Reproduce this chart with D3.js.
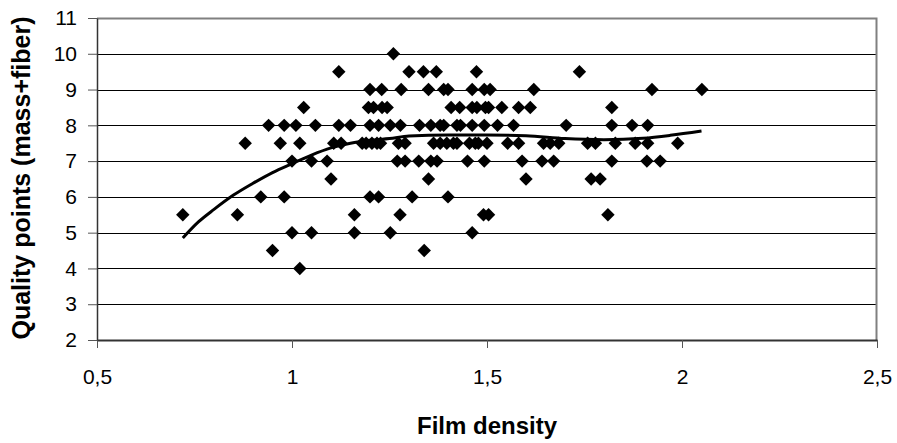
<!DOCTYPE html>
<html lang="en">

<head>
    <meta charset="UTF-8">
    <title>Film density vs quality points</title>
    <style>
        body {
            margin: 0;
            background: #fff;
        }

        #chart {
            width: 897px;
            height: 443px;
            font-family: Arial, "Liberation Sans", sans-serif;
        }

        .tick text {
            font-size: 21px;
            fill: #000;
        }

        .axis-title {
            font-size: 24px;
            font-weight: bold;
            fill: #000;
        }
    </style>
    <script src="https://cdn.jsdelivr.net/npm/d3@7"></script>
</head>

<body>
    <div id="chart"></div>
    <script>
        // tick values
        var xTicks = [0.5, 1, 1.5, 2, 2.5];
        var yTicks = [2, 3, 4, 5, 6, 7, 8, 9, 10, 11];

        // measured samples: film density (x) and quality points (y)
        var density = [
            0.72, 0.86, 0.88, 0.92, 0.94, 0.95, 0.97, 0.98, 0.98, 1.0, 1.0, 1.01, 1.02, 1.02, 1.03, 1.05, 1.05, 1.06, 1.09, 1.10,
            1.26, 1.12, 1.30, 1.20, 1.23, 1.28, 1.196, 1.209, 1.231, 1.244, 1.12, 1.15, 1.20, 1.222, 1.252, 1.278, 1.327,
            1.107, 1.126, 1.18, 1.19, 1.205, 1.218, 1.227, 1.273, 1.29, 1.27, 1.29, 1.325, 1.20, 1.222, 1.308, 1.16, 1.277, 1.16, 1.252,
            1.337, 1.37, 1.473, 1.35, 1.389, 1.40, 1.462, 1.493, 1.508, 1.408, 1.43, 1.462, 1.474, 1.496, 1.504, 1.538,
            1.356, 1.38, 1.389, 1.423, 1.432, 1.462, 1.493, 1.527, 1.363, 1.38, 1.397, 1.414, 1.423, 1.455, 1.47, 1.478, 1.50, 1.553,
            1.356, 1.372, 1.45, 1.493, 1.35, 1.40, 1.491, 1.504, 1.462, 1.339,
            1.737, 1.62, 1.581, 1.611, 1.568, 1.703, 1.581, 1.645, 1.662, 1.684, 1.758, 1.778, 1.59, 1.641, 1.671, 1.60, 1.767, 1.79,
            1.923, 2.051, 1.82, 1.82, 1.872, 1.912, 1.829, 1.88, 1.912, 1.989, 1.82, 1.91, 1.944, 1.81
        ];
        var quality = [
            5.5, 5.5, 7.5, 6, 8, 4.5, 7.5, 8, 6, 7, 5, 8, 7.5, 4, 8.5, 7, 5, 8, 7, 6.5,
            10, 9.5, 9.5, 9, 9, 9, 8.5, 8.5, 8.5, 8.5, 8, 8, 8, 8, 8, 8, 8,
            7.5, 7.5, 7.5, 7.5, 7.5, 7.5, 7.5, 7.5, 7.5, 7, 7, 7, 6, 6, 6, 5.5, 5.5, 5, 5,
            9.5, 9.5, 9.5, 9, 9, 9, 9, 9, 9, 8.5, 8.5, 8.5, 8.5, 8.5, 8.5, 8.5,
            8, 8, 8, 8, 8, 8, 8, 8, 7.5, 7.5, 7.5, 7.5, 7.5, 7.5, 7.5, 7.5, 7.5, 7.5,
            7, 7, 7, 7, 6.5, 6, 5.5, 5.5, 5, 4.5,
            9.5, 9, 8.5, 8.5, 8, 8, 7.5, 7.5, 7.5, 7.5, 7.5, 7.5, 7, 7, 7, 6.5, 6.5, 6.5,
            9, 9, 8.5, 8, 8, 8, 7.5, 7.5, 7.5, 7.5, 7, 7, 7, 5.5
        ];

        // trend line
        var trendX = [0.72, 0.76, 0.80, 0.85, 0.90, 0.95, 1.00, 1.05, 1.10, 1.15, 1.20, 1.25, 1.30, 1.40, 1.50, 1.60, 1.70, 1.80, 1.90, 1.97, 2.05];
        var trendY = [4.85, 5.3, 5.65, 6.05, 6.38, 6.68, 6.93, 7.17, 7.37, 7.50, 7.58, 7.63, 7.70, 7.73, 7.73, 7.71, 7.63, 7.60, 7.64, 7.72, 7.84];

        var margin = { top: 18, right: 20, bottom: 103, left: 97 },
            width = 897 - margin.left - margin.right,
            height = 443 - margin.top - margin.bottom;

        var svg = d3.select("#chart").append("svg")
            .attr("width", 897)
            .attr("height", 443);
        var g = svg.append("g")
            .attr("transform", "translate(" + margin.left + "," + margin.top + ")");

        var x = d3.scaleLinear().domain([0.5, 2.5]).range([0, width]);
        var y = d3.scaleLinear().domain([2, 11]).range([height, 0]);

        // gridlines
        g.append("g").selectAll("line")
            .data(yTicks.slice(1))
            .enter().append("line")
            .attr("x1", 0)
            .attr("x2", width)
            .attr("y1", function (d) { return Math.round(y(d)) + 0.5; })
            .attr("y2", function (d) { return Math.round(y(d)) + 0.5; })
            .style("stroke", "#000")
            .style("stroke-width", 1);

        // plot border (top / right)
        g.append("path")
            .attr("d", "M0," + 0.5 + "H" + (width - 0.5) + "V" + height)
            .style("fill", "none")
            .style("stroke", "#808080")
            .style("stroke-width", 2);

        var xAxis = g.append("g")
            .attr("transform", "translate(0," + height + ")")
            .call(d3.axisBottom(x).tickValues(xTicks).tickSize(8).tickSizeOuter(0)
                .tickFormat(function (d) { return String(d).replace(".", ","); }));
        xAxis.select(".domain").style("stroke", "#333").style("stroke-width", 2);
        xAxis.selectAll(".tick line").style("stroke", "#555");
        xAxis.selectAll(".tick text").attr("y", 29);

        var yAxis = g.append("g")
            .call(d3.axisLeft(y).tickValues(yTicks).tickSize(9).tickSizeOuter(0));
        yAxis.select(".domain").style("stroke", "#333").style("stroke-width", 1.5);
        yAxis.selectAll(".tick line").style("stroke", "#555");
        yAxis.selectAll(".tick text").attr("x", -20);
        g.selectAll(".tick text").style("font-family", "Arial, 'Liberation Sans', sans-serif");

        // points
        var pts = density.map(function (d, i) { return [d, quality[i]]; });
        var diamond = d3.symbol().type(d3.symbolSquare).size(90);
        g.append("g").selectAll("path")
            .data(pts)
            .enter().append("path")
            .attr("d", diamond)
            .attr("transform", function (d) { return "translate(" + x(d[0]) + "," + y(d[1]) + ") rotate(45)"; })
            .style("fill", "#000");

        // trend
        var trend = trendX.map(function (d, i) { return [d, trendY[i]]; });
        g.append("path")
            .datum(trend)
            .attr("d", d3.line()
                .x(function (d) { return x(d[0]); })
                .y(function (d) { return y(d[1]); })
                .curve(d3.curveMonotoneX))
            .style("fill", "none")
            .style("stroke", "#000")
            .style("stroke-width", 3);

        // titles
        svg.append("text")
            .attr("class", "axis-title")
            .attr("x", margin.left + x(1.5))
            .attr("y", 434)
            .attr("text-anchor", "middle")
            .text("Film density");

        svg.append("text")
            .attr("class", "axis-title")
            .attr("transform", "translate(30," + 178 + ") rotate(-90)")
            .attr("text-anchor", "middle")
            .style("font-size", "25px")
            .text("Quality points (mass+fiber)");
    </script>
</body>

</html>
